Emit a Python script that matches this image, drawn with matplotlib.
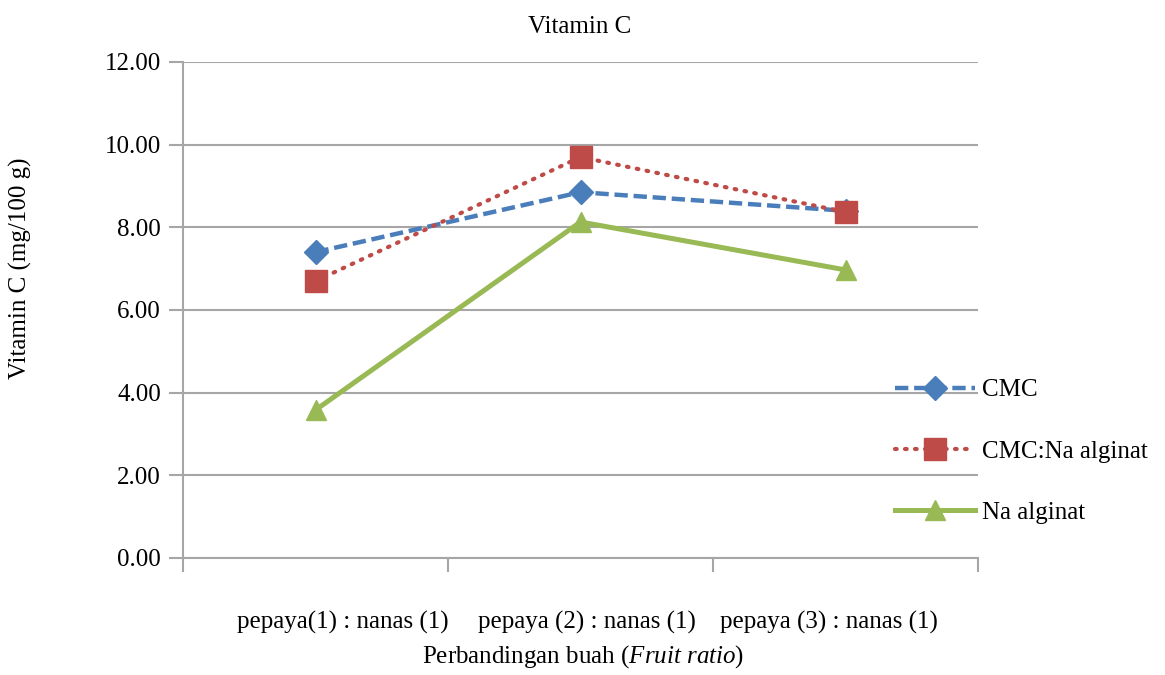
import matplotlib
matplotlib.use("Agg")
import matplotlib.pyplot as plt
from matplotlib.transforms import blended_transform_factory

plt.rcParams['font.family'] = ['Liberation Serif', 'DejaVu Serif']
plt.rcParams['mathtext.fontset'] = 'custom'
plt.rcParams['mathtext.rm'] = 'Liberation Serif'
plt.rcParams['mathtext.it'] = 'Liberation Serif:italic'

categories = ["pepaya(1) : nanas (1)", "pepaya (2) : nanas (1)", "pepaya (3) : nanas (1)"]
cmc = [7.40, 8.85, 8.40]
cmc_na = [6.70, 9.70, 8.37]
na_alginat = [3.58, 8.13, 6.97]

BLUE = "#4A7EBB"
RED = "#BE4B48"
GREEN = "#98B954"
GRID = "#A6A6A6"
FS = 18

W, H = 1165, 675
fig = plt.figure(figsize=(W / 100, H / 100), dpi=100)
ax = fig.add_axes([183 / W, 1 - 558 / H, 795 / W, 496 / H])

x = list(range(len(categories)))
ax.plot(x, cmc, color=BLUE, lw=3.2, dashes=(3.0, 1.3), marker="D", ms=12,
        label="CMC", zorder=3)
ax.plot(x, cmc_na, color=RED, lw=3.0, linestyle=(0, (0.4, 2.0)),
        dash_capstyle="round", marker="s", ms=16, label="CMC:Na alginat", zorder=3)
ax.plot(x, na_alginat, color=GREEN, lw=3.6, marker="^", ms=15,
        label="Na alginat", zorder=3)

ax.set_xlim(-0.5, 2.5)
ax.set_ylim(0, 12)
yt = [0, 2, 4, 6, 8, 10, 12]
ax.set_yticks(yt)
ax.set_yticklabels(["%.2f" % v for v in yt])
ax.yaxis.grid(True, color=GRID, lw=1.5)
ax.set_axisbelow(True)

# category ticks sit on the boundaries
ax.set_xticks([-0.5, 0.5, 1.5, 2.5])
ax.set_xticklabels([])
ax.tick_params(axis="x", length=10, color=GRID, width=1.5)
ax.tick_params(axis="y", length=10, color=GRID, width=1.5, labelsize=FS, pad=6)

for s in ["top", "right"]:
    ax.spines[s].set_visible(False)
for s in ["left", "bottom"]:
    ax.spines[s].set_color(GRID)
    ax.spines[s].set_linewidth(1.5)

# category labels run together in one line under the axis
label_pos = [0.201, 0.508, 0.813]
trans = blended_transform_factory(ax.transAxes, fig.transFigure)
for xp, lab in zip(label_pos, categories):
    ax.text(xp, 1 - 622 / H, lab, transform=trans,
            ha="center", va="center", fontsize=FS)

fig.text(580 / W, 1 - 27 / H, "Vitamin C", ha="center", va="center", fontsize=FS)
fig.text(20 / W, 1 - 268 / H, "Vitamin C (mg/100 g)", rotation=90,
         ha="center", va="center", fontsize=FS)
fig.text(583 / W, 1 - 657 / H, "Perbandingan buah ($\\it{Fruit\\ ratio}$)",
         ha="center", va="center", fontsize=FS)

ax.legend(loc="upper left", bbox_to_anchor=(895 / W, 1 - 379 / H),
          bbox_transform=fig.transFigure, frameon=False, fontsize=FS,
          borderpad=0, borderaxespad=0, handlelength=3.2, labelspacing=1.55,
          handletextpad=0.28)

fig.savefig("out.png", dpi=100)
